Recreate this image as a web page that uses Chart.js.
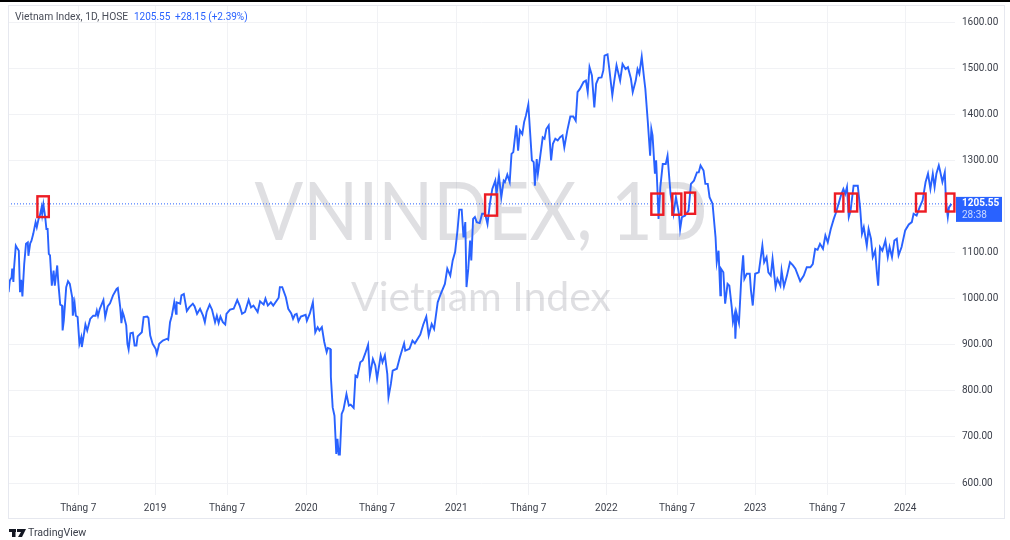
<!DOCTYPE html>
<html>
<head>
<meta charset="utf-8">
<title>VNINDEX</title>
<script src="https://cdn.jsdelivr.net/npm/chart.js@4"></script>
<style>
  html, body { margin: 0; padding: 0; background: #fff; }
  #wrap { width: 1010px; height: 540px; position: relative; }
</style>
</head>
<body>
<div id="wrap"><canvas id="chart" width="1010" height="540"></canvas></div>
<script>
// session number counted from the left edge of the chart, and index close
const sessions = [1,3,6,7,9,10,13,16,18,20,22,24,27,30,33,34,37,39,42,46,48,51,53,56,57,59,62,64,66,68,70,73,76,78,82,84,87,90,91,93,97,100,103,107,108,111,113,116,119,122,123,127,129,132,137,142,146,148,150,153,159,162,166,170,175,181,183,187,189,191,193,197,199,201,204,208,211,214,216,223,226,232,234,237,241,246,248,252,258,265,267,270,273,277,280,281,287,289,293,298,302,308,311,315,320,325,328,331,336,340,345,348,351,354,358,362,364,370,376,382,386,390,395,401,405,409,416,420,426,429,433,438,442,451,453,457,463,467,472,475,478,481,484,488,496,498,503,508,512,516,519,523,527,531,533,537,
  538,541,544,547,549,551,553,556,559,564,568,571,576,579,582,587,591,595,600,603,608,612,615,621,624,628,632,634,638,641,648,653,660,662,669,674,678,687,692,697,701,706,710,716,721,728,732,737,741,745,749,752,756,759,762,764,767,770,772,775,778,781,786,790,795,799,
  803,807,812,814,818,822,826,828,832,836,839,842,847,850,853,857,860,863,867,870,873,876,878,881,883,887,891,894,897,901,905,908,912,916,920,924,927,932,937,942,946,949,953,959,963,966,969,973,977,980,984,989,992,994,999,1002,1007,1010,1014,1020,1024,1029,1033,1038,1041,1046,1049,1052,1056,1060,1062,1066,1070,1072,1074,1078,1080,1082,1084,1087,1091,1096,1099,1104,1109,1113,1118,1120,1123,1128,1134,1138,1143,1148,1151,1154,1159,1162,1166,1169,1174,1179,
  1181,1184,1187,1188,1192,1195,1199,1202,1206,1208,1211,1212,1214,1218,1222,1225,1227,1231,1236,1238,1241,1245,1251,1257,1260,1264,1267,1271,1274,1279,1282,1287,1289,1293,1298,1303,1308,1312,1320,1326,1331,1337,1341,1345,1349,1353,1358,1362,1366,1371,1376,1380,1384,1388,1392,1395,1398,1401,1404,1409,1416,1420,1423,1426,1431,1434,1438,1441,1445,1448,1450,1453,1457,1462,1466,1469,1473,1477,1481,1484,1489,1495,1501,1506,1509,1514,1519,1524,1529,1533,1537,1541,1544,1547,1551,1553,1557,1561,1563,1566,1568,1572];
const closes = [1014,1039,1046,1065,1036,1065,1115,1108,1104,1014,1041,1005,1075,1119,1122,1093,1120,1125,1140,1166,1155,1173,1180,1198,1184,1204,1177,1151,1151,1097,1094,1028,1061,1028,1072,1032,987,985,931,952,1025,1038,1032,1003,963,990,963,960,902,916,895,927,944,931,956,963,963,974,963,978,997,960,983,990,1007,1021,1023,981,947,971,963,942,902,890,925,926,898,898,918,927,960,961,958,920,902,891,880,902,909,913,911,949,963,992,967,992,989,1007,1010,973,981,989,983,967,978,963,949,971,987,976,949,963,947,961,949,944,967,976,978,997,985,967,971,997,981,985,971,994,987,1000,985,992,985,1002,1025,1025,1003,978,968,956,965,967,951,961,965,952,968,992,927,938,931,938,906,884,893,891,
  830,764,746,663,696,662,662,750,759,793,768,770,763,833,830,862,866,880,900,833,869,855,826,877,862,877,837,786,815,844,848,873,903,887,891,909,903,922,944,961,920,945,934,992,1010,1032,1065,1050,1083,1101,1148,1193,1193,1133,1166,1025,1065,1126,1083,1173,1177,1166,1164,1184,1184,1162,
  1206,1238,1256,1227,1267,1220,1256,1253,1269,1253,1314,1318,1376,1321,1365,1357,1383,1397,1421,1361,1300,1296,1245,1303,1271,1310,1350,1347,1368,1376,1300,1336,1347,1343,1350,1354,1328,1365,1395,1395,1386,1448,1455,1470,1473,1448,1502,1484,1415,1466,1479,1480,1495,1527,1530,1498,1441,1470,1506,1473,1509,1498,1502,1477,1448,1473,1498,1488,1525,1477,1455,1386,1310,1368,1354,1271,1300,1242,1173,1242,1292,1292,1310,1227,1184,1220,1184,1151,1177,1180,1191,1249,1256,1274,1274,1289,1278,1249,1249,1220,1206,1133,
  1079,1104,1007,1065,1057,989,1032,1028,981,949,967,913,968,947,1047,1094,1043,1054,1054,1018,985,1054,1057,1115,1079,1090,1057,1050,1086,1025,1043,1028,1061,1026,1050,1079,1072,1065,1038,1050,1068,1068,1075,1108,1106,1119,1108,1137,1122,1151,1173,1188,1206,1224,1238,1227,1242,1177,1191,1245,1245,1195,1141,1155,1115,1151,1130,1090,1104,1054,1028,1112,1104,1126,1090,1112,1090,1126,1130,1094,1112,1148,1161,1166,1184,1180,1198,1213,1253,1271,1238,1271,1242,1271,1289,1278,1253,1274,1209,1177,1198,1205.55];

const lastClose = 1205.55;
const sessionRange = [0, 1578];
const priceRange = [574, 1637];
const priceTicks = [600,700,800,900,1000,1100,1200,1300,1400,1500,1600];
const timeTicks = [117,245,365,497,615,747,867,997,1115,1245,1365,1495];
const timeLabels = ['Tháng 7','2019','Tháng 7','2020','Tháng 7','2021','Tháng 7','2022','Tháng 7','2023','Tháng 7','2024'];

// the red boxes marked on the chart
const boxFrom = [49,795,1072,1107,1128,1378,1401,1513,1563];
const boxTo   = [68,815,1092,1122,1145,1392,1415,1529,1577];
const boxHigh = [1222,1226,1228,1228,1230,1228,1228,1228,1228];
const boxLow  = [1177,1180,1182,1182,1184,1189,1189,1189,1189];

const blue = '#2962ff';
const textColor = '#3a3e49';
const gridColor = '#f1f2f5';
const uiFont = 'Roboto, sans-serif';

const watermark = {
  id: 'watermark',
  beforeDatasetsDraw(chart) {
    const c = chart.ctx;
    c.save();
    c.fillStyle = 'rgba(120,123,134,0.24)';
    c.textAlign = 'center';
    c.textBaseline = 'alphabetic';
    c.font = '82px Lato, sans-serif';
    c.fillText('VNINDEX, 1D', 481, 240, 453);
    c.font = '41px Lato, sans-serif';
    c.fillText('Vietnam Index', 481, 311);
    c.restore();
  }
};

const decorations = {
  id: 'decorations',
  afterDraw(chart) {
    const c = chart.ctx;
    const x = chart.scales.x;
    const y = chart.scales.y;
    c.save();

    // red boxes
    c.strokeStyle = '#ed1c24';
    c.lineWidth = 2.4;
    boxFrom.forEach((from, i) => {
      const left = x.getPixelForValue(from);
      const top = y.getPixelForValue(boxHigh[i]);
      c.strokeRect(left, top, x.getPixelForValue(boxTo[i]) - left, y.getPixelForValue(boxLow[i]) - top);
    });

    // price tag on the axis
    const py = y.getPixelForValue(lastClose);
    c.fillStyle = blue;
    c.fillRect(956, py - 7, 46, 25);
    c.textAlign = 'left';
    c.textBaseline = 'middle';
    c.fillStyle = '#fff';
    c.font = 'bold 10px ' + uiFont;
    c.fillText(lastClose.toFixed(2), 962, py);
    c.fillStyle = 'rgba(255,255,255,0.75)';
    c.font = '10px ' + uiFont;
    c.fillText('28:38', 962, py + 12);

    // header
    c.textBaseline = 'middle';
    c.font = '10.3px ' + uiFont;
    c.fillStyle = '#4a4e59';
    c.fillText('Vietnam Index, 1D, HOSE', 15, 17);
    c.font = '10px ' + uiFont;
    c.fillStyle = blue;
    c.fillText('1205.55', 134, 17);
    c.fillText('+28.15 (+2.39%)', 175, 17);

    // frame
    c.strokeStyle = '#e6e8ef';
    c.lineWidth = 1;
    c.strokeRect(8.5, 5.5, 996, 513);
    c.fillStyle = '#000';
    c.fillRect(0, 0, 1010, 2);

    // logo and footer text
    c.fillStyle = '#131722';
    c.fillRect(9, 529, 7, 3);
    c.fillRect(12, 529, 3.5, 8);
    c.beginPath();
    c.moveTo(17, 529); c.lineTo(26, 529); c.lineTo(22, 537); c.lineTo(18, 537); c.lineTo(21, 532); c.lineTo(17, 532);
    c.closePath();
    c.fill();
    c.fillStyle = '#3c404b';
    c.font = '10.6px ' + uiFont;
    c.fillText('TradingView', 28, 533);
    c.restore();
  }
};

new Chart(document.getElementById('chart').getContext('2d'), {
  type: 'line',
  data: {
    datasets: [
      {
        label: 'Vietnam Index',
        data: sessions.map((s, i) => ({ x: s, y: closes[i] })),
        borderColor: blue,
        borderWidth: 1.9,
        pointRadius: 0,
        tension: 0,
        fill: false,
      },
      {
        label: 'Last close',
        data: sessionRange.map((s) => ({ x: s, y: lastClose })),
        borderColor: blue,
        borderWidth: 1,
        borderDash: [1, 2],
        pointRadius: 0,
        fill: false,
      },
    ],
  },
  plugins: [watermark, decorations],
  options: {
    responsive: false,
    animation: false,
    devicePixelRatio: 1,
    layout: { padding: { left: 8, top: 5, right: 0, bottom: 0 } },
    plugins: { legend: { display: false }, tooltip: { enabled: false } },
    scales: {
      x: {
        type: 'linear',
        min: sessionRange[0],
        max: sessionRange[1],
        afterBuildTicks: (axis) => { axis.ticks = timeTicks.map((value) => ({ value })); },
        afterFit: (axis) => { axis.height = 45; axis.paddingLeft = 0; axis.paddingRight = 0; },
        border: { display: false },
        grid: { color: gridColor, drawTicks: false },
        ticks: {
          color: textColor,
          font: { family: uiFont, size: 10 },
          padding: 7,
          maxRotation: 0,
          autoSkip: false,
          callback: (value) => timeLabels[timeTicks.indexOf(value)],
        },
      },
      y: {
        position: 'right',
        min: priceRange[0],
        max: priceRange[1],
        afterBuildTicks: (axis) => { axis.ticks = priceTicks.map((value) => ({ value })); },
        afterFit: (axis) => { axis.width = 55; axis.paddingTop = 0; axis.paddingBottom = 0; },
        border: { display: false },
        grid: { color: gridColor, drawTicks: false },
        ticks: {
          color: textColor,
          font: { family: uiFont, size: 10 },
          padding: 7,
          callback: (value) => value.toFixed(2),
        },
      },
    },
  },
});
</script>
</body>
</html>
